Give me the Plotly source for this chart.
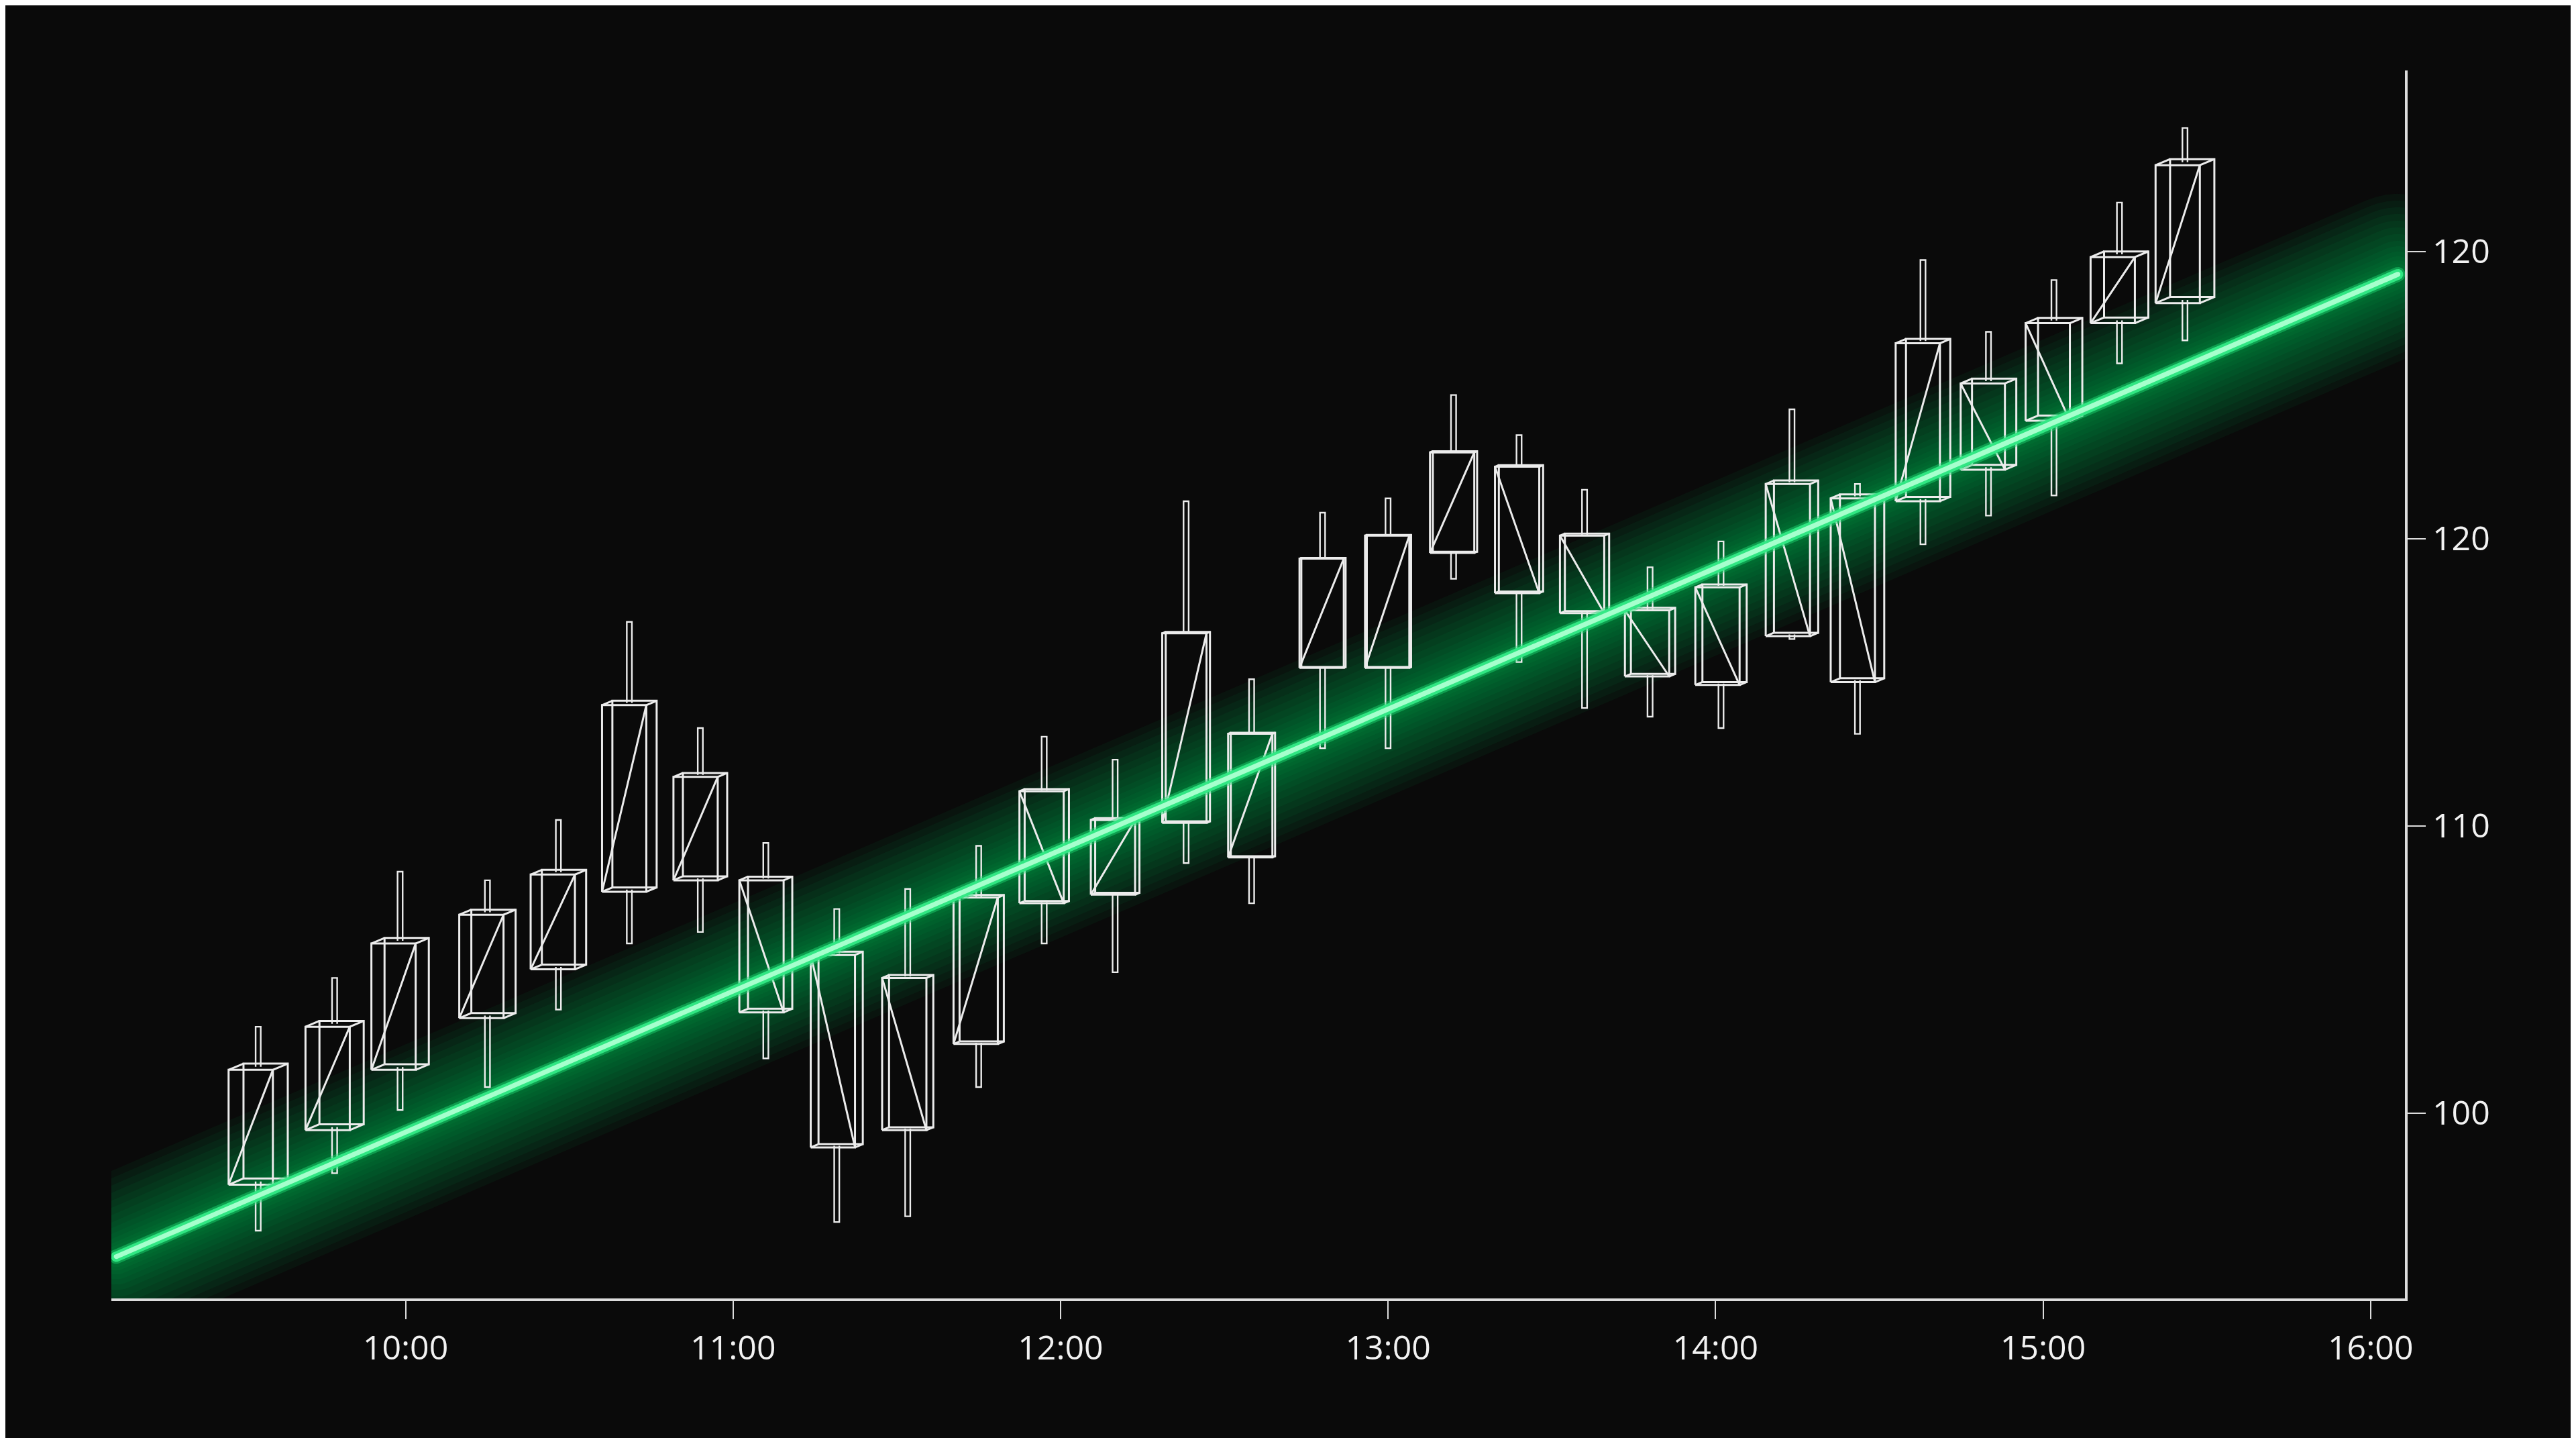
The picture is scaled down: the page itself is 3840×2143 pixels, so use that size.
import math
import plotly.graph_objects as go

# ---------------- data ----------------
TIMES = ["09:33", "09:47", "09:59", "10:15", "10:28", "10:41", "10:54", "11:06",
         "11:19", "11:32", "11:45", "11:57", "12:10", "12:23", "12:35", "12:48",
         "13:00", "13:12", "13:24", "13:36", "13:48", "14:01", "14:14", "14:26",
         "14:38", "14:50", "15:02", "15:14", "15:26"]
OPEN = [97.5, 99.4, 101.5, 103.3, 105.0, 107.7, 108.1, 108.1, 105.5, 104.7,
        102.4, 111.2, 107.6, 110.1, 108.9, 115.5, 115.5, 119.5, 122.5, 120.1,
        117.5, 118.3, 121.9, 121.4, 121.3, 125.4, 127.5, 127.5, 128.2]
HIGH = [103.0, 104.7, 108.4, 108.1, 110.2, 117.1, 113.4, 109.4, 107.1, 107.8,
        109.3, 113.1, 112.3, 121.3, 115.1, 120.9, 121.4, 125.0, 123.6, 121.7,
        119.0, 119.9, 124.5, 121.9, 129.7, 127.2, 129.0, 131.7, 134.3]
LOW = [95.9, 97.9, 100.1, 100.9, 103.6, 105.9, 106.3, 101.9, 96.2, 96.4,
       100.9, 105.9, 104.9, 108.7, 107.3, 112.7, 112.7, 118.6, 115.7, 114.1,
       113.8, 113.4, 116.5, 113.2, 119.8, 120.8, 121.5, 126.1, 126.9]
CLOSE = [101.5, 103.0, 105.9, 106.9, 108.3, 114.2, 111.7, 103.5, 98.8, 99.4,
         107.5, 107.3, 110.2, 116.7, 113.2, 119.3, 120.1, 123.0, 118.1, 117.4,
         115.2, 114.9, 116.6, 115.0, 126.8, 122.4, 124.1, 129.8, 133.0]

TREND_TIMES = ["09:07", "16:05"]
TREND_VALUES = [95.0, 129.2]

X_TICK_LABELS = ["10:00", "11:00", "12:00", "13:00", "14:00", "15:00", "16:00"]
Y_TICK_VALUES = [100, 110, 120, 130]
Y_TICK_LABELS = ["100", "110", "120", "120"]


def to_min(s):
    h, m = s.split(":")
    return int(h) * 60 + int(m)


# ---------------- layout constants ----------------
W, H = 3840, 2143
ML, MR, MT, MB = 158, 263, 97, 216
X_RANGE = [546.1, 966.3]
Y_RANGE = [93.54, 136.3]
PX_PER_MIN = (W - ML - MR) / (X_RANGE[1] - X_RANGE[0])
PX_PER_VAL = (H - MT - MB) / (Y_RANGE[1] - Y_RANGE[0])

BG = "#0a0a0a"
EDGE = "#ececec"

t_vals = [to_min(s) for s in TIMES]
trend_x = [to_min(s) for s in TREND_TIMES]
x_tick_vals = [to_min(s) for s in X_TICK_LABELS]

# ---------------- candle wireframe geometry ----------------
box_x, box_y = [], []
wick_x, wick_y = [], []
front_w = 66 / PX_PER_MIN
wick_hw = 3.8 / PX_PER_MIN
center_t = 775
for t, o, h, l, c in zip(t_vals, OPEN, HIGH, LOW, CLOSE):
    d = t - center_t
    depth_px = 2 + abs(d) * (0.1 if d < 0 else 0.13)
    dx = depth_px / PX_PER_MIN
    dy = 0.42 * depth_px / PX_PER_VAL
    lo, hi = min(o, c), max(o, c)
    x0 = t - (front_w + dx) / 2
    x1 = x0 + front_w
    box_x += [x0, x1, x1, x0, x0, None]
    box_y += [lo, lo, hi, hi, lo, None]
    box_x += [x0 + dx, x1 + dx, x1 + dx, x0 + dx, x0 + dx, None]
    box_y += [lo + dy, lo + dy, hi + dy, hi + dy, lo + dy, None]
    for cx, cy in [(x0, lo), (x1, lo), (x1, hi), (x0, hi)]:
        box_x += [cx, cx + dx, None]
        box_y += [cy, cy + dy, None]
    if c >= o:
        box_x += [x0, x1, None]
        box_y += [lo, hi, None]
    else:
        box_x += [x0, x1, None]
        box_y += [hi, lo, None]
    top = hi + dy / 2
    bot = lo + dy / 2
    wick_x += [t - wick_hw, t - wick_hw, t + wick_hw, t + wick_hw, None]
    wick_y += [top, h, h, top, None]
    wick_x += [t - wick_hw, t - wick_hw, t + wick_hw, t + wick_hw, None]
    wick_y += [bot, l, l, bot, None]


# ---------------- glow around trend line (rounded stadium layers) ----------------
def stadium(r_px, n=24):
    p0 = (0.0, 0.0)
    p1 = ((trend_x[1] - trend_x[0]) * PX_PER_MIN,
          (TREND_VALUES[1] - TREND_VALUES[0]) * PX_PER_VAL)
    ang = math.atan2(p1[1], p1[0])
    pts = []
    for k in range(n + 1):
        a = ang - math.pi / 2 + math.pi * k / n
        pts.append((p1[0] + r_px * math.cos(a), p1[1] + r_px * math.sin(a)))
    for k in range(n + 1):
        a = ang + math.pi / 2 + math.pi * k / n
        pts.append((p0[0] + r_px * math.cos(a), p0[1] + r_px * math.sin(a)))
    pts.append(pts[0])
    xs = [trend_x[0] + px / PX_PER_MIN for px, _ in pts]
    ys = [TREND_VALUES[0] + py / PX_PER_VAL for _, py in pts]
    return xs, ys


fig = go.Figure()

glow_radii = [120, 110, 100, 90, 80, 70, 60, 50, 42, 34, 27, 21, 16]
for r in glow_radii:
    gx, gy = stadium(r)
    fig.add_trace(go.Scatter(
        x=gx, y=gy, mode="lines", fill="toself",
        fillcolor="rgba(0,215,100,0.05)", line=dict(width=0),
        hoverinfo="skip", showlegend=False))

fig.add_trace(go.Scatter(x=wick_x, y=wick_y, mode="lines",
                         line=dict(color=EDGE, width=2.4),
                         hoverinfo="skip", showlegend=False))
fig.add_trace(go.Scatter(x=box_x, y=box_y, mode="lines",
                         line=dict(color=EDGE, width=3),
                         hoverinfo="skip", showlegend=False))

# core neon line
hx_, hy_ = stadium(11)
fig.add_trace(go.Scatter(x=hx_, y=hy_, mode="lines", fill="toself",
                         fillcolor="rgba(30,220,115,0.45)", line=dict(width=0),
                         hoverinfo="skip", showlegend=False))
cx_, cy_ = stadium(8)
fig.add_trace(go.Scatter(x=cx_, y=cy_, mode="lines", fill="toself",
                         fillcolor="rgba(50,232,132,0.97)", line=dict(width=0),
                         hoverinfo="skip", showlegend=False))
ix_, iy_ = stadium(3.8)
fig.add_trace(go.Scatter(x=ix_, y=iy_, mode="lines", fill="toself",
                         fillcolor="#a6ffcd", line=dict(width=0),
                         hoverinfo="skip", showlegend=False))

axis_font = dict(family="Open Sans", size=50, color="#f2f2f2")
fig.update_layout(
    width=W, height=H,
    margin=dict(l=ML, r=MR, t=MT, b=MB),
    paper_bgcolor=BG, plot_bgcolor=BG,
    showlegend=False,
    xaxis=dict(range=X_RANGE, tickvals=x_tick_vals, ticktext=X_TICK_LABELS,
               showgrid=False, zeroline=False, showline=True,
               linecolor="#dcdcdc", linewidth=4,
               ticks="outside", ticklen=27, tickwidth=2, tickcolor="#dcdcdc",
               tickfont=axis_font, fixedrange=True),
    yaxis=dict(range=Y_RANGE, tickvals=Y_TICK_VALUES, ticktext=Y_TICK_LABELS,
               side="right", showgrid=False, zeroline=False, showline=True,
               linecolor="#dcdcdc", linewidth=4,
               ticks="outside", ticklen=27, tickwidth=2, tickcolor="#dcdcdc",
               tickfont=axis_font, fixedrange=True),
)

fig.write_html("out.html", config={"displayModeBar": False})
